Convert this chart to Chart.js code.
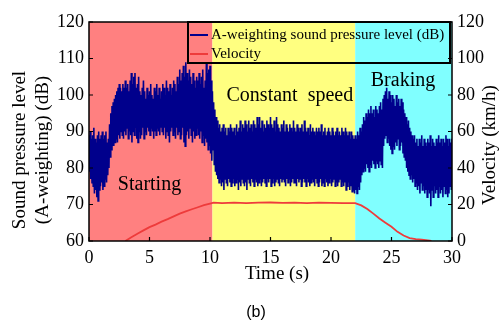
<!DOCTYPE html>
<html>
<head>
<meta charset="utf-8">
<script src="https://cdn.jsdelivr.net/npm/chart.js@4.4.0/dist/chart.umd.min.js"></script>
<style>
  html, body { margin: 0; padding: 0; background: #fff; }
  canvas { display: block; }
</style>
</head>
<body>
<canvas id="chart" width="500" height="322"></canvas>
<script>
// noise band, one pair every 0.1 s from 0 to 30 s
const splTimeStep = 0.1;
const splHigh = [
  89, 90, 88, 89, 91, 88, 87, 89, 90, 88,
  89, 90, 88, 89, 90, 87, 88, 92, 95, 97,
  98, 99, 100, 101, 102, 103, 102, 101, 103, 102,
  104, 102, 103, 101, 104, 106, 103, 105, 106, 102,
  103, 105, 101, 100, 102, 104, 101, 99, 102, 100,
  101, 103, 100, 99, 102, 101, 103, 100, 102, 99,
  101, 103, 102, 100, 104, 102, 101, 103, 100, 102,
  104, 103, 101, 105, 103, 107, 104, 106, 108, 105,
  109, 106, 104, 107, 105, 103, 106, 104, 102, 105,
  104, 106, 103, 105, 107, 102, 104, 109, 106, 107,
  108, 104, 101, 98, 96, 94, 93, 91, 92, 90,
  91, 92, 90, 91, 89, 91, 90, 92, 91, 90,
  91, 89, 92, 90, 91, 93, 90, 92, 91, 93,
  92, 90, 93, 91, 92, 90, 93, 92, 91, 94,
  92, 94, 91, 93, 90, 92, 91, 93, 92, 91,
  94, 92, 91, 93, 90, 94, 92, 91, 90, 92,
  91, 93, 90, 92, 91, 90, 92, 91, 90, 93,
  91, 90, 92, 91, 90, 91, 92, 90, 93, 91,
  90, 91, 89, 92, 90, 91, 90, 89, 91, 90,
  91, 90, 92, 89, 90, 91, 89, 90, 91, 90,
  89, 91, 90, 89, 90, 91, 89, 90, 89, 91,
  90, 89, 91, 90, 89, 90, 88, 90, 89, 88,
  89, 88, 90, 89, 91, 90, 92, 94, 93, 95,
  94, 96, 95, 97, 95, 96, 94, 97, 96, 95,
  97, 98, 96, 99, 100, 101, 102, 99, 101, 100,
  98, 100, 99, 97, 100, 98, 99, 97, 99, 98,
  96, 95, 94, 92, 93, 91, 90, 89, 88, 89,
  87, 88, 86, 88, 87, 89, 86, 88, 87, 86,
  88, 87, 89, 86, 88, 87, 86, 88, 87, 89,
  87, 88, 86, 88, 87, 89, 88, 86, 88, 87,
  88
];
const splLow = [
  79, 77, 76, 75, 73, 74, 72, 71, 74, 75,
  76, 74, 75, 77, 76, 78, 80, 83, 85, 86,
  86, 87, 88, 87, 89, 88, 90, 89, 88, 90,
  89, 91, 88, 90, 89, 87, 90, 89, 91, 88,
  87, 90, 88, 89, 91, 88, 90, 89, 91, 90,
  89, 91, 90, 88, 90, 89, 91, 90, 89, 91,
  90, 89, 91, 88, 90, 89, 87, 90, 91, 89,
  90, 88, 91, 89, 90, 88, 89, 91, 87, 86,
  89, 90, 88, 91, 89, 87, 90, 88, 89, 91,
  89, 88, 90, 87, 89, 86, 88, 87, 85, 86,
  84, 82, 85, 81, 79, 78, 77, 76, 77, 75,
  76, 74, 77, 76, 75, 77, 76, 75, 76, 77,
  75, 76, 77, 74, 76, 75, 77, 76, 75, 76,
  74, 77, 76, 75, 77, 76, 75, 77, 76, 75,
  76, 77, 75, 76, 77, 76, 75, 77, 76, 77,
  75, 76, 77, 75, 76, 77, 76, 75, 77, 76,
  77, 76, 75, 77, 76, 77, 75, 76, 77, 76,
  76, 75, 77, 76, 77, 75, 76, 77, 76, 75,
  77, 76, 75, 76, 77, 76, 75, 77, 76, 75,
  76, 77, 75, 76, 75, 77, 76, 75, 76, 77,
  75, 76, 77, 75, 76, 75, 76, 77, 75, 76,
  75, 76, 74, 75, 76, 74, 75, 73.5, 74, 73,
  74, 73, 75, 74, 76, 78, 79, 80, 79, 81,
  80, 79, 81, 80, 82, 81, 80, 82, 81, 80,
  82, 81, 80, 86, 88, 89, 87, 88, 86, 85,
  84, 86, 85, 87, 86, 88, 85, 86, 87, 84,
  83, 82, 80, 79, 78, 77, 78, 76, 77, 75,
  76, 74, 75, 73, 76, 74, 75, 73, 74, 72,
  74, 73, 69.5, 74, 72, 75, 73, 74, 72, 75,
  73, 74, 72, 75, 73, 74, 72, 73, 75, 74,
  73
];

const velTime = [3, 3.5, 4, 4.5, 5, 5.5, 6, 6.5, 7, 7.5, 8, 8.5, 9, 9.5, 10, 10.3, 11, 12, 13, 14, 15, 16, 17, 18, 19, 20, 21, 22, 22.5, 23, 23.5, 24, 24.5, 25, 25.5, 26, 26.5, 27, 27.5, 28, 28.3];
const velValue = [0, 2, 4, 5.8, 7.6, 9, 10.6, 12, 13.5, 15, 16.2, 17.4, 18.5, 19.6, 20.5, 21, 20.8, 21, 20.8, 21, 21.1, 20.9, 21, 20.8, 21, 20.9, 20.8, 20.8, 19.5, 17.5, 15, 12.3, 10, 7.8, 5, 3, 1.6, 1, 0.8, 0.4, 0];

const phaseEdges = [0, 10.2, 22, 30];
const phaseColors = ['#ff8080', '#ffff80', '#80ffff'];
const phaseNames = ['Starting', 'Constant  speed', 'Braking'];
const phaseNameAt = [[5, 75.5], [16.6, 99.7], [25.95, 104]];

const SERIF = "'Liberation Serif', 'Times New Roman', serif";

const splPoints = [];
splHigh.forEach((hi, i) => {
  const t = i * splTimeStep;
  splPoints.push({ x: t, y: hi });
  splPoints.push({ x: t + splTimeStep / 2, y: splLow[i] });
});
const velPoints = velTime.map((t, i) => ({ x: t, y: velValue[i] }));

// background phases, phase names, inward ticks, boxed legend, titles
const paperPlugin = {
  id: 'paper',
  beforeDatasetsDraw(chart) {
    const { ctx, chartArea: a, scales: { x } } = chart;
    ctx.save();
    for (let i = 0; i < phaseColors.length; i++) {
      const x0 = x.getPixelForValue(phaseEdges[i]);
      const x1 = x.getPixelForValue(phaseEdges[i + 1]);
      ctx.fillStyle = phaseColors[i];
      ctx.fillRect(x0, a.top, x1 - x0, a.bottom - a.top);
    }
    ctx.restore();
  },
  afterDatasetsDraw(chart) {
    const { ctx, scales: { x, y } } = chart;
    ctx.save();
    ctx.fillStyle = '#000';
    ctx.font = '20px ' + SERIF;
    ctx.textAlign = 'center';
    ctx.textBaseline = 'middle';
    phaseNames.forEach((name, i) => {
      ctx.fillText(name, x.getPixelForValue(phaseNameAt[i][0]), y.getPixelForValue(phaseNameAt[i][1]));
    });
    ctx.restore();
  },
  afterDraw(chart) {
    const { ctx, chartArea: a, scales } = chart;
    ctx.save();
    ctx.strokeStyle = '#000';
    ctx.lineWidth = 1.5;
    ctx.strokeRect(a.left, a.top, a.right - a.left, a.bottom - a.top);

    // ticks point into the plot
    ctx.lineWidth = 1.2;
    ctx.beginPath();
    scales.x.ticks.forEach(t => {
      const px = scales.x.getPixelForValue(t.value);
      ctx.moveTo(px, a.bottom); ctx.lineTo(px, a.bottom - 4);
    });
    scales.y.ticks.forEach(t => {
      const py = scales.y.getPixelForValue(t.value);
      ctx.moveTo(a.left, py); ctx.lineTo(a.left + 4, py);
    });
    scales.y1.ticks.forEach(t => {
      const py = scales.y1.getPixelForValue(t.value);
      ctx.moveTo(a.right, py); ctx.lineTo(a.right - 4, py);
    });
    ctx.stroke();

    // legend box over the plot
    const lx = a.left + 99, ly = a.top, lw = 262, lh = 41;
    ctx.lineWidth = 2;
    ctx.strokeRect(lx, ly, lw, lh);
    ctx.font = '15px ' + SERIF;
    ctx.textAlign = 'left';
    ctx.textBaseline = 'middle';
    chart.data.datasets.forEach((ds, i) => {
      const rowY = ly + 13 + i * 19;
      ctx.strokeStyle = ds.borderColor;
      ctx.lineWidth = 2;
      ctx.beginPath();
      ctx.moveTo(lx + 2, rowY); ctx.lineTo(lx + 20, rowY);
      ctx.stroke();
      ctx.fillStyle = '#000';
      ctx.fillText(ds.label, lx + 23, rowY);
    });

    // axis titles
    ctx.fillStyle = '#000';
    ctx.font = '19px ' + SERIF;
    ctx.textAlign = 'center';
    ctx.save();
    ctx.translate(20, 150);
    ctx.rotate(-Math.PI / 2);
    ctx.fillText('Sound pressure level', 0, 0);
    ctx.fillText('(A-weighting) (dB)', 0, 23);
    ctx.restore();
    ctx.save();
    ctx.translate(490, 145);
    ctx.rotate(-Math.PI / 2);
    ctx.fillText('Velocity (km/h)', 0, 0);
    ctx.restore();
    ctx.fillText('Time (s)', 277, 274);
    ctx.font = "16px 'Liberation Sans', Arial, sans-serif";
    ctx.fillText('(b)', 256, 313);
    ctx.restore();
  }
};

const tickFont = { family: SERIF, size: 18 };

new Chart(document.getElementById('chart'), {
  type: 'line',
  data: {
    datasets: [
      {
        label: 'A-weighting sound pressure level (dB)',
        data: splPoints,
        yAxisID: 'y',
        borderColor: '#00008c',
        borderWidth: 1.6,
        pointRadius: 0,
        tension: 0
      },
      {
        label: 'Velocity',
        data: velPoints,
        yAxisID: 'y1',
        borderColor: '#ee3b3b',
        borderWidth: 1.8,
        pointRadius: 0,
        tension: 0
      }
    ]
  },
  options: {
    responsive: false,
    animation: false,
    events: [],
    layout: { padding: { top: 22, left: 0, right: 0, bottom: 0 } },
    plugins: {
      legend: { display: false },
      tooltip: { enabled: false }
    },
    scales: {
      x: {
        type: 'linear',
        min: 0,
        max: 30,
        ticks: { stepSize: 5, padding: 6, color: '#000', font: tickFont, maxRotation: 0 },
        grid: { display: false, drawTicks: false },
        border: { display: false },
        afterFit: s => { s.height = 81; }
      },
      y: {
        position: 'left',
        min: 60,
        max: 120,
        ticks: { stepSize: 10, padding: 5, color: '#000', font: tickFont },
        grid: { display: false, drawTicks: false },
        border: { display: false },
        afterFit: s => { s.width = 89; }
      },
      y1: {
        position: 'right',
        min: 0,
        max: 120,
        ticks: { stepSize: 20, padding: 5, color: '#000', font: tickFont },
        grid: { display: false, drawTicks: false },
        border: { display: false },
        afterFit: s => { s.width = 48; }
      }
    }
  },
  plugins: [paperPlugin]
});
</script>
</body>
</html>
